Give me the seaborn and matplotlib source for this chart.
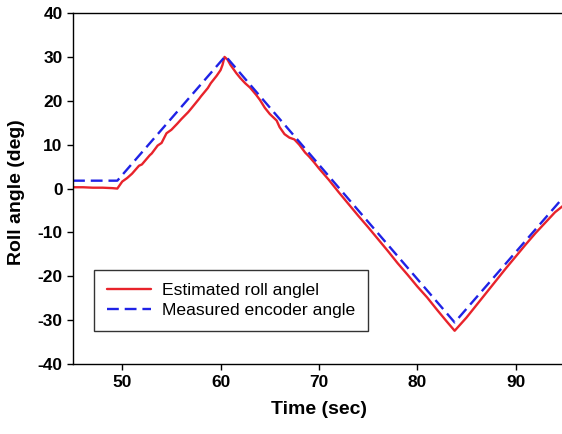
import pandas as pd
import matplotlib.pyplot as plt
import seaborn as sns

# Estimated roll angle (red, slightly noisy)
est_time = [45, 46, 47, 48, 49, 49.5, 50, 50.5, 51, 51.7, 52, 52.8, 53, 53.6, 54, 54.5, 55, 55.6,
            56, 56.7, 57, 57.8, 58, 58.7, 59, 59.6, 60, 60.2, 60.4, 60.7, 61, 61.6, 62, 62.5,
            63, 63.6, 64, 64.5, 65, 65.7, 66, 66.5, 67, 67.5, 68, 68.6, 69, 69.5, 70, 71, 72,
            73, 74, 75, 76, 77, 78, 79, 80, 81, 82, 83, 83.8, 85, 86, 87, 88, 89, 90, 91, 92,
            93, 94, 95]
est_angle = [0.3, 0.3, 0.2, 0.2, 0.1, 0.0, 1.6, 2.4, 3.4, 5.2, 5.5, 7.6, 8.0, 9.8, 10.4, 12.6, 13.4,
             14.8, 15.8, 17.4, 18.2, 20.4, 21.0, 22.9, 24.0, 25.7, 27.0, 28.2, 30.0, 29.4, 28.2,
             26.3, 25.2, 24.0, 23.0, 21.4, 20.2, 18.4, 17.0, 15.5, 14.0, 12.4, 11.6, 11.2, 10.0,
             8.2, 7.3, 6.0, 4.6, 2.0, -0.8, -3.5, -6.2, -8.8, -11.5, -14.2, -17.0, -19.6, -22.3,
             -24.8, -27.6, -30.3, -32.4, -29.4, -26.6, -23.8, -21.0, -18.2, -15.5, -12.8, -10.2,
             -7.8, -5.4, -3.6]

# Measured encoder angle (blue dashed)
enc_time = [45, 49.5, 60.5, 83.8, 95]
enc_angle = [1.8, 1.8, 30.2, -30.5, -1.6]

labels = ["Estimated roll anglel", "Measured encoder angle"]

df = pd.concat([
    pd.DataFrame({"time": est_time, "angle": est_angle, "series": labels[0]}),
    pd.DataFrame({"time": enc_time, "angle": enc_angle, "series": labels[1]}),
])

sns.set_style("ticks")
plt.rcParams["font.family"] = ["Liberation Sans", "DejaVu Sans"]
plt.rcParams["axes.unicode_minus"] = False
plt.rcParams["text.color"] = "black"
plt.rcParams["axes.labelcolor"] = "black"

fig = plt.figure(figsize=(5.62, 4.34), dpi=100)
ax = fig.add_axes([0.130, 0.161, 0.875, 0.809])

sns.lineplot(data=df, x="time", y="angle", hue="series", style="series",
             palette=["#e8232b", "#1f22e6"], dashes=[(None, None), (5, 2.5)],
             linewidth=1.7, sort=False, ax=ax)

ax.set_xlim(45, 95)
ax.set_ylim(-40, 40)
ax.set_xticks([50, 60, 70, 80, 90])
ax.set_yticks(range(-40, 41, 10))
ax.tick_params(labelsize=12.5, length=4, width=1, colors="black")
for t in ax.get_xticklabels() + ax.get_yticklabels():
    t.set_fontweight("bold")
ax.set_xlabel("Time (sec)", fontsize=14, fontweight="bold", labelpad=8)
ax.set_ylabel("Roll angle (deg)", fontsize=14, fontweight="bold")
ax.yaxis.set_label_coords(-0.098, 0.49)
for s in ax.spines.values():
    s.set_linewidth(1)
    s.set_color("black")

leg = ax.legend(loc="lower left", bbox_to_anchor=(0.043, 0.094), borderaxespad=0,
                fontsize=12.6, frameon=True, fancybox=False, handlelength=2.5,
                handletextpad=0.6, borderpad=0.75, labelspacing=0.25)
leg.get_frame().set_edgecolor("black")
leg.get_frame().set_linewidth(1)
leg.set_title(None)

fig.savefig("out.png", dpi=100)
